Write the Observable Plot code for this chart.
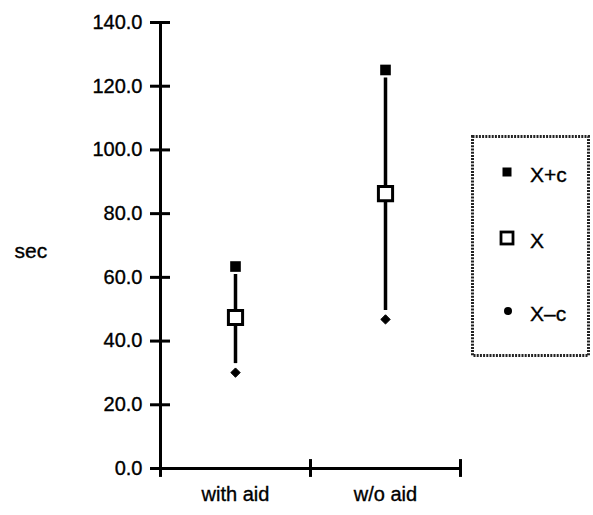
<!DOCTYPE html>
<html><head><meta charset="utf-8">
<script src="https://cdn.jsdelivr.net/npm/d3@7"></script>
<script src="https://cdn.jsdelivr.net/npm/@observablehq/plot@0.6"></script>
<style>
body{margin:0;background:#fff;}
#wrap{position:relative;width:593px;height:515px;font-family:"Liberation Sans",Arial,sans-serif;}
#wrap svg text{stroke:#000;stroke-width:0.35px;}
#legend{position:absolute;left:471px;top:135px;}
</style></head><body><div id="wrap"></div>
<script>
const categories = ["with aid", "w/o aid"];
const upper = [63.4, 125.1];   // X+c
const mean = [47.4, 86.3];     // X
const lower = [30.1, 46.8];    // X-c
const yTicks = [0, 20, 40, 60, 80, 100, 120, 140];
const legendLabels = ["X+c", "X", "X\u2013c"];
const yLabel = "sec";

const data = categories.map((c, i) => ({cat: c, upper: upper[i], mean: mean[i], lower: lower[i]}));

const chart = Plot.plot({
  width: 593, height: 515,
  marginLeft: 160, marginRight: 133, marginTop: 22, marginBottom: 47,
  style: {fontFamily: "'Liberation Sans', Arial, sans-serif", fontSize: "20px", color: "#000", background: "#fff"},
  x: {type: "band", domain: categories, padding: 0, label: null},
  y: {domain: [0, 140], label: null},
  marks: [
    Plot.axisY(yTicks, {tickSize: 0, tickPadding: 18, tickFormat: d3.format(".1f"), fontSize: 20}),
    Plot.axisX({tickSize: 0, tickPadding: 18, fontSize: 20}),
    Plot.ruleY(yTicks, {y: d => d, insetLeft: -10, insetRight: 290, strokeWidth: 3}),
    Plot.ruleX([categories[0]], {x: d => d, dx: -75, y1: 0, y2: 140, strokeWidth: 3}),
    Plot.ruleY([0], {strokeWidth: 3}),
    Plot.ruleX(categories, {x: d => d, dx: -75, y1: -2.8, y2: 2.8, strokeWidth: 3}),
    Plot.ruleX([categories[1]], {x: d => d, dx: 75, y1: -2.8, y2: 2.8, strokeWidth: 3}),
    Plot.ruleX(data, {x: "cat", y1: "upper", y2: "lower", strokeWidth: 3.5, insetTop: 8, insetBottom: 9}),
    Plot.dot(data, {x: "cat", y: "upper", symbol: "square", r: 6, fill: "#000"}),
    Plot.dot(data, {x: "cat", y: "mean", symbol: "square", r: 8, fill: "#fff", stroke: "#000", strokeWidth: 3}),
    Plot.dot(data, {x: "cat", y: "lower", symbol: "diamond2", r: 4.2, fill: "#000", stroke: "#000", strokeWidth: 1}),
    Plot.text([yLabel], {text: d => d, frameAnchor: "left", dx: -146, dy: 6, textAnchor: "start", fontSize: 21})
  ]
});
const wrap = document.getElementById("wrap");
wrap.appendChild(chart);

// legend
const lw = 119, lh = 222;
const lg = d3.select(wrap).append("svg").attr("id", "legend").attr("width", lw).attr("height", lh)
  .style("font-family", "'Liberation Sans', Arial, sans-serif").style("font-size", "21px");
lg.append("rect").attr("x", 1.5).attr("y", 1.5).attr("width", lw - 3).attr("height", lh - 3)
  .attr("fill", "#fff").attr("stroke", "#222").attr("stroke-width", 3).attr("stroke-dasharray", "2 1.2");
const rows = [37, 103, 176];
const sx = 36, tx = 59;
lg.append("rect").attr("x", sx - 4.5).attr("y", rows[0] - 4.5).attr("width", 9).attr("height", 9).attr("fill", "#000");
lg.append("rect").attr("x", sx - 6).attr("y", rows[1] - 6).attr("width", 12).attr("height", 12)
  .attr("fill", "#fff").attr("stroke", "#000").attr("stroke-width", 2.8);
lg.append("circle").attr("cx", sx + 1).attr("cy", rows[2]).attr("r", 4).attr("fill", "#000");
legendLabels.forEach((t, i) => {
  lg.append("text").attr("x", tx).attr("y", rows[i] + 3).attr("dy", "0.35em").text(t);
});
</script></body></html>
